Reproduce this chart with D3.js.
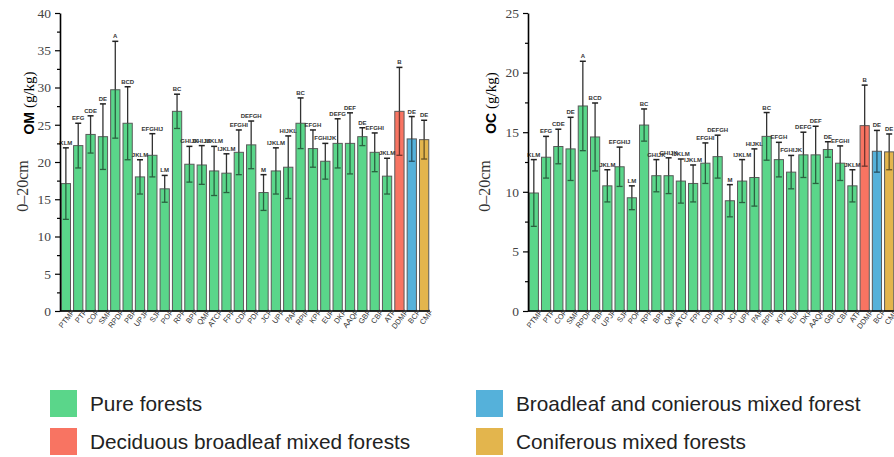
<!DOCTYPE html>
<html>
<head>
<meta charset="utf-8">
<script src="https://cdn.jsdelivr.net/npm/d3@7"></script>
<style>
  body { margin: 0; background: #fff; }
  svg { display: block; }
</style>
</head>
<body>
<svg id="chart"></svg>
<script>
const categories = ['PTMF', 'PTF', 'COF', 'SMF', 'RPDF', 'PBF', 'UPJF', 'SJF', 'POF', 'RPF',
  'BPF', 'QMF', 'ATCF', 'FPF', 'CDF', 'PDF', 'JCF', 'UPF', 'PAF', 'RPIF',
  'KPF', 'EUF', 'DKF', 'AAQF', 'GBF', 'CBF', 'ATF', 'DDMF', 'BCF', 'CMF']

// forest type of each category (index into legendLabels)
const forestType = [0, 0, 0, 0, 0, 0, 0, 0, 0, 0, 0, 0, 0, 0, 0, 0, 0, 0, 0, 0,
  0, 0, 0, 0, 0, 0, 0, 1, 2, 3]

const omMean = [17.1, 22.2, 23.7, 23.4, 29.7, 25.2, 18.0, 20.9, 16.4, 26.8,
  19.7, 19.6, 18.8, 18.5, 21.3, 22.3, 15.9, 18.8, 19.3, 25.2,
  21.8, 20.1, 22.5, 22.5, 23.4, 21.3, 18.1, 26.8, 23.1, 23.0]
const omSd = [4.8, 3.0, 2.5, 4.4, 6.5, 4.9, 2.3, 2.9, 1.8, 2.3,
  2.4, 2.6, 3.3, 2.6, 3.0, 3.2, 2.4, 3.1, 4.2, 3.4,
  2.5, 2.4, 3.3, 4.1, 1.2, 2.6, 2.4, 5.9, 3.0, 2.6]

const ocMean = [9.9, 12.9, 13.8, 13.6, 17.2, 14.6, 10.5, 12.1, 9.5, 15.6,
  11.35, 11.35, 10.9, 10.7, 12.4, 12.95, 9.25, 10.9, 11.2, 14.65,
  12.7, 11.65, 13.1, 13.1, 13.55, 12.4, 10.5, 15.55, 13.4, 13.35]
const ocSd = [2.8, 1.75, 1.45, 2.65, 3.75, 2.85, 1.35, 1.65, 1.0, 1.35,
  1.35, 1.5, 1.85, 1.55, 1.7, 1.8, 1.35, 1.8, 2.4, 2.0,
  1.45, 1.4, 1.9, 2.4, 0.65, 1.45, 1.35, 3.4, 1.75, 1.5]

const sigLetters = ['KLM', 'EFG', 'CDE', 'DE', 'A', 'BCD', 'JKLM', 'EFGHIJ', 'LM', 'BC',
  'GHIJK', 'GHIJK', 'IJKLM', 'IJKLM', 'EFGHI', 'DEFGH', 'M', 'IJKLM', 'HIJKL', 'BC',
  'EFGH', 'FGHIJK', 'DEFG', 'DEF', 'DE', 'EFGHI', 'JKLM', 'B', 'DE', 'DE']

const omTicks = [0, 5, 10, 15, 20, 25, 30, 35, 40]
const ocTicks = [0, 5, 10, 15, 20, 25]

const legendLabels = ['Pure forests', 'Deciduous broadleaf mixed forests',
  'Broadleaf and conierous mixed forest', 'Coniferous mixed forests']
const typeColors = ['#5AD68A', '#F87462', '#55B1DA', '#E3B54D']

const width = 894
const height = 457

const svg = d3.select('#chart')
  .attr('width', width)
  .attr('height', height)
  .style('font-family', 'Liberation Sans, Arial, sans-serif')

function drawPanel(x0, x1, ticks, means, sds, name, titleX) {
  const top = 13
  const bottom = 311
  const yMax = ticks[ticks.length - 1]

  const x = d3.scaleBand()
    .domain(categories)
    .range([x0, x1])
    .paddingInner(0.25)
    .paddingOuter(0.1)

  const y = d3.scaleLinear()
    .domain([0, yMax])
    .range([bottom, top])

  const g = svg.append('g')
  const bw = x.bandwidth()

  g.selectAll('rect.bar')
    .data(categories)
    .enter()
    .append('rect')
    .attr('class', 'bar')
    .attr('x', (d) => x(d))
    .attr('y', (d, i) => y(means[i]))
    .attr('width', bw)
    .attr('height', (d, i) => bottom - y(means[i]))
    .attr('fill', (d, i) => typeColors[forestType[i]])
    .attr('stroke', '#5a5a5a')
    .attr('stroke-width', 1)

  categories.forEach((c, i) => {
    const cx = x(c) + bw / 2
    const dark = d3.color(typeColors[forestType[i]]).darker(2.2)
    const yTop = y(means[i] + sds[i])
    const yLow = y(means[i] - sds[i])
    g.append('line')
      .attr('x1', cx).attr('x2', cx)
      .attr('y1', yTop).attr('y2', y(means[i]))
      .attr('stroke', '#333').attr('stroke-width', 1.3)
    g.append('line')
      .attr('x1', cx).attr('x2', cx)
      .attr('y1', y(means[i])).attr('y2', yLow)
      .attr('stroke', dark).attr('stroke-width', 1.3)
    g.append('line')
      .attr('x1', cx - 3).attr('x2', cx + 3)
      .attr('y1', yTop).attr('y2', yTop)
      .attr('stroke', '#222').attr('stroke-width', 1.5)
    g.append('line')
      .attr('x1', cx - 3).attr('x2', cx + 3)
      .attr('y1', yLow).attr('y2', yLow)
      .attr('stroke', dark).attr('stroke-width', 1.3)
    g.append('text')
      .attr('x', cx)
      .attr('y', yTop - 3)
      .attr('text-anchor', 'middle')
      .attr('font-size', 6)
      .attr('font-weight', 'bold')
      .attr('fill', '#333')
      .text(sigLetters[i])
  })

  // y axis, minor ticks first
  const minor = d3.range(0, yMax, 2.5).filter((v) => v % 5 !== 0)
  g.append('g')
    .attr('transform', `translate(${x0},0)`)
    .call(d3.axisLeft(y).tickValues(minor).tickSize(3).tickFormat(''))
    .call((a) => a.select('.domain').remove())
    .selectAll('line').attr('stroke', '#000').attr('stroke-width', 1.2)

  const ya = g.append('g')
    .attr('transform', `translate(${x0},0)`)
    .call(d3.axisLeft(y).tickValues(ticks).tickSize(5).tickPadding(4).tickSizeOuter(0))
  ya.select('.domain').attr('stroke', '#000').attr('stroke-width', 1.6)
  ya.selectAll('line').attr('stroke', '#000').attr('stroke-width', 1.2)
  ya.selectAll('text')
    .attr('font-family', 'Liberation Serif, Times New Roman, serif')
    .attr('font-size', 13.5)
    .attr('fill', '#444')

  // x axis
  const xa = g.append('g')
    .attr('transform', `translate(0,${bottom})`)
    .call(d3.axisBottom(x).tickSize(0).tickSizeOuter(0).tickPadding(5))
  xa.select('.domain').attr('stroke', '#000').attr('stroke-width', 1.6)
    .attr('d', `M${x0},0H${x1}`)
  xa.selectAll('text')
    .attr('font-size', 7.5)
    .attr('fill', '#333')
    .attr('text-anchor', 'end')
    .attr('dx', '0.6em')
    .attr('dy', '0.4em')
    .attr('transform', 'rotate(-52)')

  // y axis title
  const t1 = g.append('text')
    .attr('transform', `translate(${titleX + 6},103) rotate(-90)`)
    .attr('text-anchor', 'middle')
    .attr('dy', '0.35em')
  t1.append('tspan')
    .attr('font-weight', 'bold')
    .attr('font-size', 14)
    .text(name + '  ')
  t1.append('tspan')
    .attr('font-family', 'Liberation Serif, Times New Roman, serif')
    .attr('font-size', 15)
    .text('(g/kg)')
  g.append('text')
    .attr('transform', `translate(${titleX},186) rotate(-90)`)
    .attr('text-anchor', 'middle')
    .attr('dy', '0.35em')
    .attr('font-family', 'Liberation Serif, Times New Roman, serif')
    .attr('font-size', 16)
    .attr('fill', '#333')
    .text('0–20cm')
}

drawPanel(60, 430, omTicks, omMean, omSd, 'OM', 22)
drawPanel(528, 895, ocTicks, ocMean, ocSd, 'OC', 484)

// legend
const legendX = [50, 50, 476, 476]
const legendY = [390, 428, 390, 428]
const legend = svg.append('g')
legendLabels.forEach((lab, i) => {
  legend.append('rect')
    .attr('x', legendX[i]).attr('y', legendY[i])
    .attr('width', 27).attr('height', 27)
    .attr('fill', typeColors[i])
  legend.append('text')
    .attr('x', legendX[i] + 40)
    .attr('y', legendY[i] + 14)
    .attr('dy', '0.35em')
    .attr('font-size', 20.8)
    .attr('fill', '#222')
    .text(lab)
})
</script>
</body>
</html>
